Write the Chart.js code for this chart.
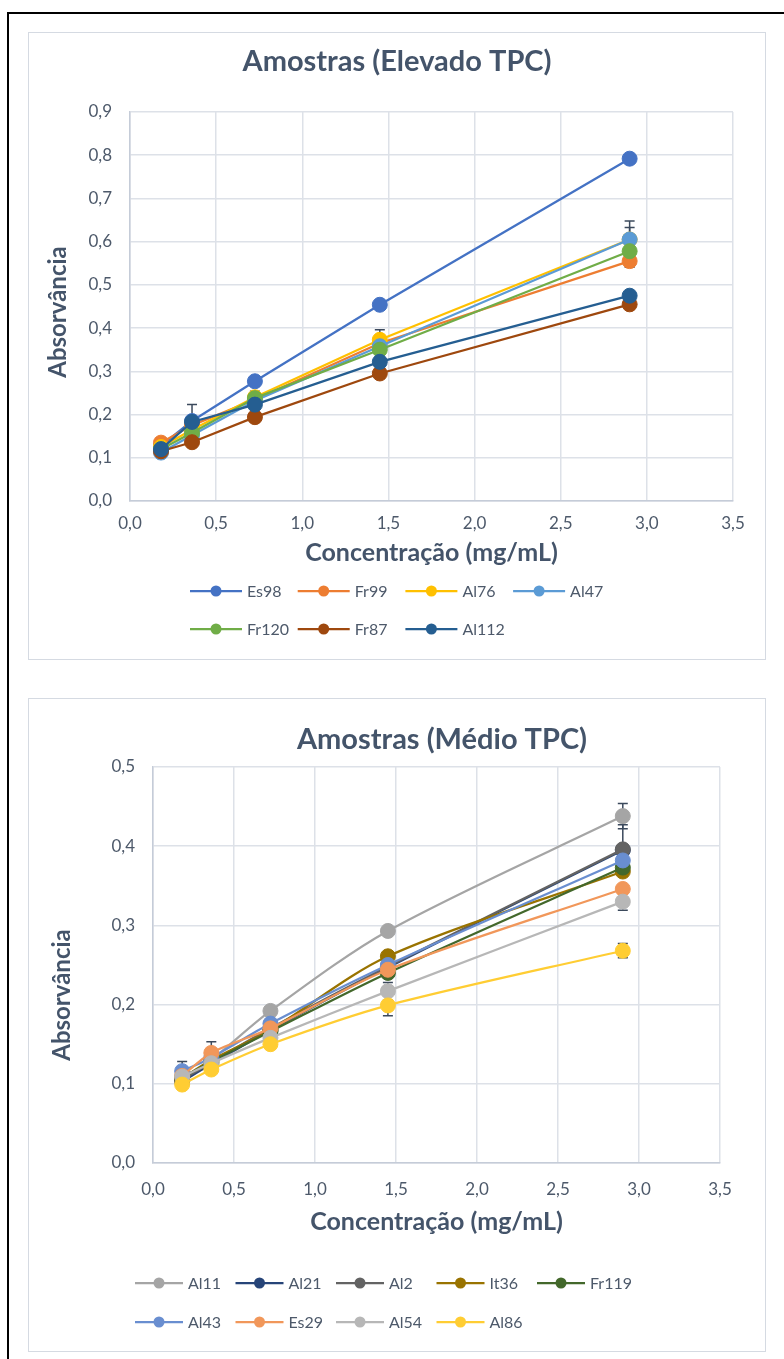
<!DOCTYPE html>
<html>
<head>
<meta charset="utf-8">
<script src="https://cdn.jsdelivr.net/npm/chart.js@4.4.0/dist/chart.umd.min.js"></script>
<style>
  body { margin: 0; background: #fff; width: 784px; height: 1359px; overflow: hidden; position: relative; }
  #frame { position: absolute; left: 7px; top: 12px; width: 820px; height: 1420px; border: 2px solid #000; }
  .box { position: absolute; left: 28px; width: 736px; border: 1px solid #d5dae2; background: #fff; }
  #box1 { top: 32px; height: 626px; }
  #box2 { top: 698px; height: 652px; }
  canvas { display: block; position: absolute; left: 0; top: 0; }
</style>
</head>
<body>
<div id="frame"></div>
<div class="box" id="box1"><canvas id="c1" width="736" height="626"></canvas></div>
<!-- canvas mais largo para o título ficar centrado como no original -->
<div class="box" id="box2"><canvas id="c2" width="826" height="652"></canvas></div>
<script>
// concentrações (mg/mL)
const conc = [0.18, 0.36, 0.725, 1.45, 2.9];

// Amostras (Elevado TPC)
const elevNames = ["Es98", "Fr99", "Al76", "Al47", "Fr120", "Fr87", "Al112"];
const es98  = [0.128, 0.185, 0.277, 0.454, 0.792];
const fr99  = [0.135, 0.175, 0.235, 0.365, 0.555];
const al76  = [0.125, 0.165, 0.240, 0.373, 0.605];
const al47  = [0.112, 0.152, 0.232, 0.358, 0.605];
const fr120 = [0.120, 0.158, 0.238, 0.350, 0.578];
const fr87  = [0.115, 0.136, 0.194, 0.295, 0.455];
const al112 = [0.120, 0.183, 0.223, 0.322, 0.475];
const errFr99  = [0.011, null, null, null, 0.014];
const errAl76  = [null, null, null, 0.023, 0.043];
const errAl47  = [null, null, null, null, 0.028];
const errFr120 = [null, null, 0.016, null, null];
const errAl112 = [null, 0.040, null, null, null];

// Amostras (Médio TPC)
const medNames = ["Al11", "Al21", "Al2", "It36", "Fr119", "Al43", "Es29", "Al54", "Al86"];
const al11  = [0.105, 0.130, 0.192, 0.293, 0.438];
const al21  = [0.103, 0.125, 0.168, 0.247, 0.395];
const al2   = [0.105, 0.127, 0.170, 0.248, 0.396];
const it36  = [0.107, 0.130, 0.168, 0.261, 0.368];
const fr119 = [0.108, 0.128, 0.166, 0.240, 0.373];
const al43  = [0.116, 0.133, 0.176, 0.250, 0.382];
const es29  = [0.110, 0.139, 0.170, 0.244, 0.346];
const al54  = [0.109, 0.126, 0.158, 0.217, 0.330];
const al86  = [0.099, 0.118, 0.150, 0.199, 0.268];
const errAl11 = [null, null, null, null, 0.016];
const errAl2  = [null, null, null, null, 0.031];
const errAl43 = [0.012, null, null, null, null];
const errEs29 = [null, 0.014, null, null, null];
const errAl54 = [null, null, null, 0.011, 0.011];
const errAl86 = [null, null, 0.006, 0.013, 0.009];

const elevColors = ["#4472C4", "#ED7D31", "#FFC000", "#5B9BD5", "#70AD47", "#9E480E", "#255E91"];
const medColors = ["#A5A5A5", "#264478", "#636363", "#997300", "#43682B", "#698ED0", "#F1975A", "#B7B7B7", "#FFCD33"];

const txt = "#44546A";
const tickCol = "#4d596a";
const gridCol = "#dde1e8";
const fmt = v => v.toFixed(1).replace(".", ",");

// barras de erro
const errorBars = {
  id: "errorBars",
  beforeDatasetsDraw(chart) {
    const { ctx, scales: { x, y } } = chart;
    ctx.save();
    ctx.strokeStyle = "#3b495c";
    ctx.lineWidth = 1.5;
    chart.data.datasets.forEach(ds => {
      if (!ds.errs) return;
      ds.data.forEach((p, i) => {
        const e = ds.errs[i];
        if (e == null) return;
        const px = x.getPixelForValue(p.x);
        const t = y.getPixelForValue(p.y + e);
        const b = y.getPixelForValue(p.y - e);
        ctx.beginPath();
        ctx.moveTo(px, t); ctx.lineTo(px, b);
        ctx.moveTo(px - 5, t); ctx.lineTo(px + 5, t);
        ctx.moveTo(px - 5, b); ctx.lineTo(px + 5, b);
        ctx.stroke();
      });
    });
    ctx.restore();
  }
};

// título do eixo Y (posição livre, como no Excel)
const yTitle = {
  id: "yTitle",
  afterDraw(chart, args, o) {
    const ctx = chart.ctx;
    ctx.save();
    ctx.translate(o.x, o.y);
    ctx.rotate(-Math.PI / 2);
    ctx.font = "bold 24px Lato";
    ctx.fillStyle = txt;
    ctx.textAlign = "center";
    ctx.textBaseline = "middle";
    ctx.fillText(o.text, 0, 0);
    ctx.restore();
  }
};

// legenda em grelha (como no Excel)
const gridLegend = {
  id: "gridLegend",
  afterDraw(chart, args, o) {
    const ctx = chart.ctx;
    ctx.save();
    ctx.font = "16px Lato";
    ctx.textBaseline = "middle";
    chart.data.datasets.forEach((ds, i) => {
      const lx = o.x0 + (i % o.cols) * o.step;
      const ly = o.rows[Math.floor(i / o.cols)];
      ctx.strokeStyle = ds.borderColor;
      ctx.lineWidth = 2.25;
      ctx.beginPath();
      ctx.moveTo(lx, ly); ctx.lineTo(lx + o.lineLen, ly);
      ctx.stroke();
      ctx.fillStyle = ds.borderColor;
      ctx.beginPath();
      ctx.arc(lx + o.lineLen / 2, ly, 5.5, 0, Math.PI * 2);
      ctx.fill();
      ctx.fillStyle = tickCol;
      ctx.fillText(ds.label, lx + o.lineLen + 5, ly + 1);
    });
    ctx.restore();
  }
};

function makeDatasets(names, series, errs, colors, tension) {
  return names.map((n, i) => ({
    label: n,
    data: conc.map((c, j) => ({ x: c, y: series[i][j] })),
    borderColor: colors[i],
    backgroundColor: colors[i],
    pointBackgroundColor: colors[i],
    pointBorderColor: colors[i],
    pointRadius: 7.5,
    pointBorderWidth: 1,
    borderWidth: 2.25,
    tension: tension,
    order: -i,
    errs: errs[i]
  }));
}

function makeChart(id, title, datasets, L) {
  return new Chart(document.getElementById(id), {
    type: "line",
    data: { datasets: datasets },
    options: {
      responsive: false,
      animation: false,
      layout: { padding: { left: 0, right: 0, top: 0, bottom: L.padBottom } },
      plugins: {
        legend: { display: false },
        tooltip: { enabled: false },
        title: {
          display: true, text: title, color: txt,
          font: { family: "Lato", size: 29, weight: "bold" },
          padding: { top: L.titleTop, bottom: L.titleBottom }
        },
        yTitle: { text: "Absorvância", x: L.yTitleX, y: L.yTitleY },
        gridLegend: L.legend
      },
      scales: {
        x: {
          type: "linear", min: 0, max: 3.5,
          ticks: { stepSize: 0.5, padding: L.xTickPad, color: tickCol, font: { family: "Lato", size: 17 }, callback: fmt },
          grid: { color: gridCol, lineWidth: 1.5, drawTicks: false },
          border: { color: "#c5ccd8", width: 1.5 },
          title: { display: true, text: "Concentração (mg/mL)", color: txt,
                   font: { family: "Lato", size: 25, weight: "bold" }, padding: { top: 0, bottom: L.xTitlePad } },
          afterFit: s => { s.height = L.xHeight; }
        },
        y: {
          min: 0, max: L.yMax,
          ticks: { stepSize: 0.1, padding: 18, color: tickCol, font: { family: "Lato", size: 17 }, callback: fmt },
          grid: { color: gridCol, lineWidth: 1.5, drawTicks: false },
          border: { color: "#c5ccd8", width: 1.5 },
          afterFit: s => { s.width = L.yWidth; }
        },
        // espaço à direita da área do gráfico
        yr: {
          position: "right", min: 0, max: 1,
          ticks: { display: false },
          grid: { display: false, drawOnChartArea: false },
          border: { display: false },
          afterFit: s => { s.width = L.rightGap; }
        }
      }
    },
    plugins: [errorBars, yTitle, gridLegend]
  });
}

makeChart("c1", "Amostras (Elevado TPC)",
  makeDatasets(elevNames,
    [es98, fr99, al76, al47, fr120, fr87, al112],
    [null, errFr99, errAl76, errAl47, errFr120, null, errAl112],
    elevColors, 0),
  { padBottom: 88, titleTop: 11.6, titleBottom: 32.6, xTickPad: 12.8, xTitlePad: 3.2,
    xHeight: 70, yWidth: 101, rightGap: 32, yMax: 0.9, yTitleX: 29, yTitleY: 279,
    legend: { x0: 161, step: 107.7, cols: 4, rows: [558, 596], lineLen: 52 } });

makeChart("c2", "Amostras (Médio TPC)",
  makeDatasets(medNames,
    [al11, al21, al2, it36, fr119, al43, es29, al54, al86],
    [errAl11, null, errAl2, null, null, errAl43, errEs29, errAl54, errAl86],
    medColors, 0.3),
  { padBottom: 108, titleTop: 23.6, titleBottom: 9.6, xTickPad: 16.8, xTitlePad: 6.2,
    xHeight: 80, yWidth: 124, rightGap: 135, yMax: 0.5, yTitleX: 33, yTitleY: 296,
    legend: { x0: 106, step: 100.5, cols: 5, rows: [584, 623], lineLen: 48 } });
</script>
</body>
</html>
